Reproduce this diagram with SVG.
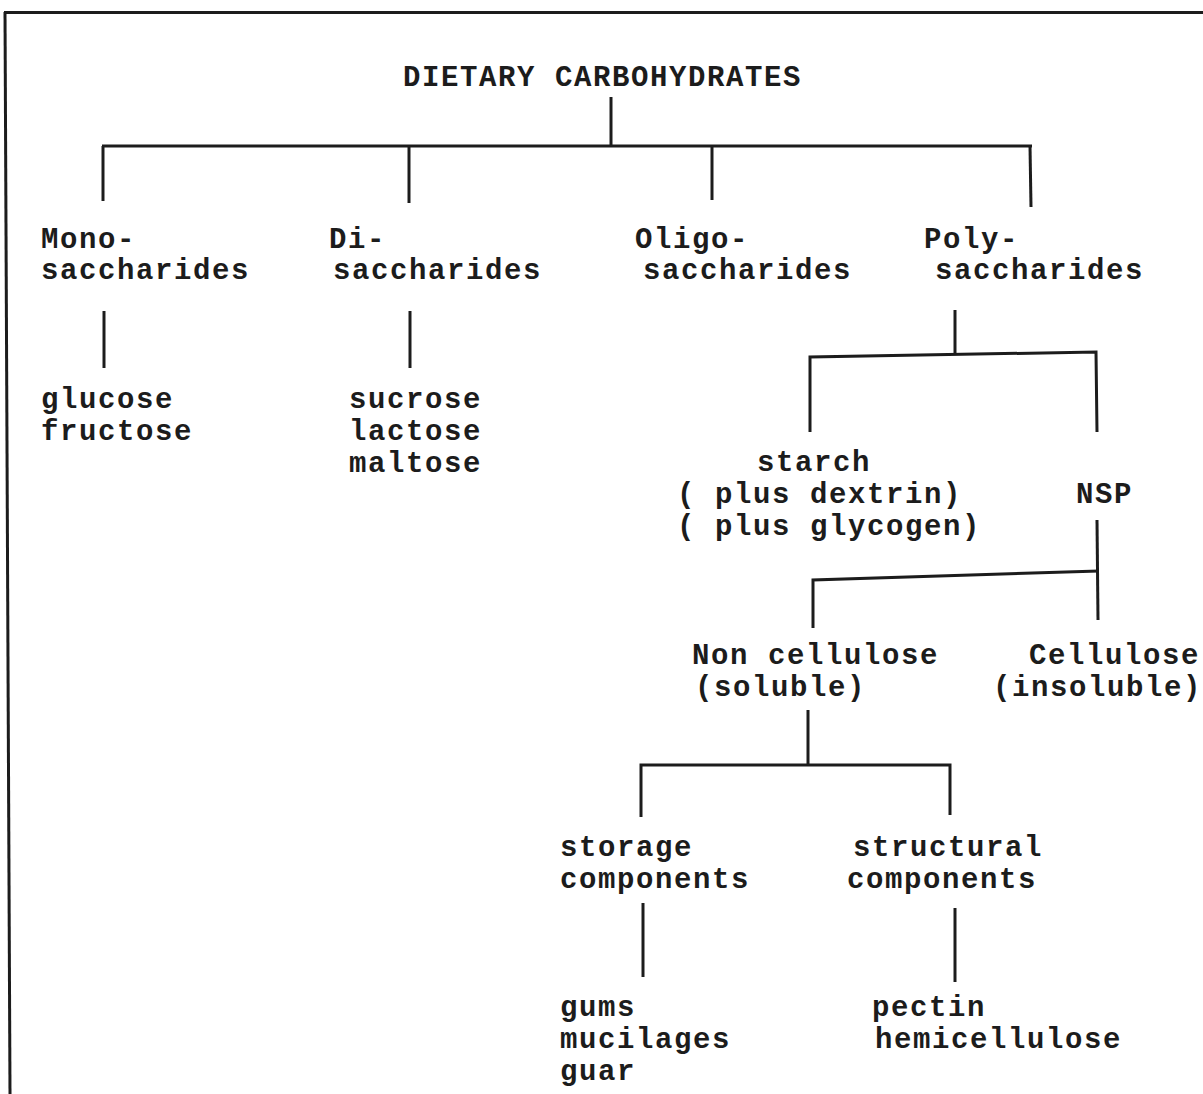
<svg xmlns="http://www.w3.org/2000/svg" width="1203" height="1094" viewBox="0 0 1203 1094">
<style>
text{font-family:"Liberation Mono","Courier New",monospace;font-weight:bold;font-size:29px;letter-spacing:1.6px;fill:#1c1c1c}
.c line,.c polyline{stroke:#1c1c1c;stroke-width:3;fill:none;stroke-linecap:butt}
.b line{stroke:#1c1c1c;stroke-width:3}
</style>
<rect width="1203" height="1094" fill="#ffffff"/>
<g class="b" id="border">
<line x1="4" y1="12.5" x2="1203" y2="12.5"/>
<line x1="5" y1="12" x2="10" y2="1094"/>
</g>
<g class="c" id="connectors">
<line x1="611" y1="97" x2="611" y2="146"/>
<line x1="102" y1="146" x2="1032" y2="146"/>
<line x1="103" y1="146" x2="103" y2="201"/>
<line x1="409" y1="146" x2="409" y2="203"/>
<line x1="712" y1="146" x2="712" y2="200"/>
<line x1="1030" y1="146" x2="1031" y2="207"/>
<line x1="104" y1="311" x2="104" y2="368"/>
<line x1="410" y1="311" x2="410" y2="368"/>
<line x1="955" y1="310" x2="955" y2="355"/>
<polyline points="810,432 810,357 1096,352 1097,432"/>
<line x1="1097" y1="520" x2="1098" y2="620"/>
<polyline points="813,628 813,580 1099,571"/>
<line x1="808" y1="710" x2="808" y2="765"/>
<polyline points="641,817 641,765 950,765 950,815"/>
<line x1="643" y1="903" x2="643" y2="977"/>
<line x1="955" y1="908" x2="955" y2="982"/>
</g>
<g id="root"><text x="403" y="86">DIETARY CARBOHYDRATES</text></g>
<g id="mono"><text x="41" y="248">Mono-</text><text x="41" y="279">saccharides</text></g>
<g id="di"><text x="329" y="248">Di-</text><text x="333" y="279">saccharides</text></g>
<g id="oligo"><text x="635" y="248">Oligo-</text><text x="643" y="279">saccharides</text></g>
<g id="poly"><text x="924" y="248">Poly-</text><text x="935" y="279">saccharides</text></g>
<g id="mono-ex"><text x="41" y="408">glucose</text><text x="41" y="440">fructose</text></g>
<g id="di-ex"><text x="349" y="408">sucrose</text><text x="349" y="440">lactose</text><text x="349" y="472">maltose</text></g>
<g id="starch"><text x="757" y="471">starch</text><text x="677" y="503">( plus dextrin)</text><text x="677" y="535">( plus glycogen)</text></g>
<g id="nsp"><text x="1076" y="503">NSP</text></g>
<g id="noncellulose"><text x="692" y="664">Non cellulose</text><text x="695" y="696">(soluble)</text></g>
<g id="cellulose"><text x="1029" y="664">Cellulose</text><text x="993" y="696">(insoluble)</text></g>
<g id="storage"><text x="560" y="856">storage</text><text x="560" y="888">components</text></g>
<g id="structural"><text x="853" y="856">structural</text><text x="847" y="888">components</text></g>
<g id="storage-ex"><text x="560" y="1016">gums</text><text x="560" y="1048">mucilages</text><text x="560" y="1080">guar</text></g>
<g id="structural-ex"><text x="872" y="1016">pectin</text><text x="875" y="1048">hemicellulose</text></g>
</svg>
